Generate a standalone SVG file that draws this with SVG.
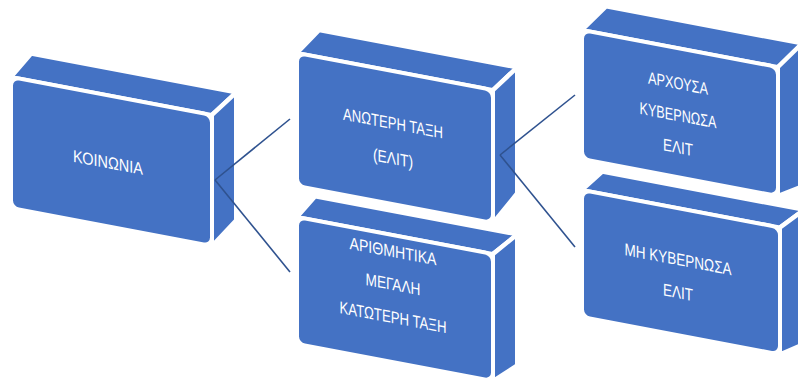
<svg xmlns="http://www.w3.org/2000/svg" width="798" height="383" viewBox="0 0 798 383">
<style>
.f{fill:#4472C4;stroke:#FFFFFF;stroke-width:4;stroke-linejoin:round}
.t{font-family:"Liberation Sans",Arial,sans-serif;font-size:17px;fill:#FFFFFF;text-anchor:middle}
.c{stroke:#2F528F;stroke-width:1.6;fill:none}
</style>
<rect width="798" height="383" fill="#FFFFFF"/>
<g id="node-koinonia" transform="translate(11,77) skewY(10.7)">
<polygon class="f" points="0,0 20,-27 225,-27 201,0"/>
<polygon class="f" points="201,0 225,-27 225,101 201,131"/>
<rect class="f" x="0" y="0" width="201" height="131" rx="8"/>
<text class="t" x="97" y="73" textLength="70" lengthAdjust="spacingAndGlyphs">ΚΟΙΝΩΝΙΑ</text>
</g>
<g id="node-katoteri" transform="translate(297,217) skewY(10.7)">
<polygon class="f" points="0,0 18,-24 220,-24 196,0"/>
<polygon class="f" points="196,0 220,-24 220,107 196,127"/>
<rect class="f" x="0" y="0" width="196" height="127" rx="8"/>
<text class="t" x="96" y="22" textLength="87" lengthAdjust="spacingAndGlyphs">ΑΡΙΘΜΗΤΙΚΑ</text>
<text class="t" x="96" y="55" textLength="55" lengthAdjust="spacingAndGlyphs">ΜΕΓΑΛΗ</text>
<text class="t" x="96" y="88" textLength="107" lengthAdjust="spacingAndGlyphs">ΚΑΤΩΤΕΡΗ ΤΑΞΗ</text>
</g>
<g id="node-anoteri" transform="translate(297,53) skewY(10.7)">
<polygon class="f" points="0,0 22,-27 220,-27 196,0"/>
<polygon class="f" points="196,0 220,-27 220,99 196,133"/>
<rect class="f" x="0" y="0" width="196" height="133" rx="8"/>
<text class="t" x="96" y="58" textLength="100" lengthAdjust="spacingAndGlyphs">ΑΝΩΤΕΡΗ ΤΑΞΗ</text>
<text class="t" x="96" y="93" textLength="40" lengthAdjust="spacingAndGlyphs">(ΕΛΙΤ)</text>
</g>
<g id="node-mi-kyvernosa" transform="translate(582,190) skewY(10.7)">
<polygon class="f" points="0,0 20,-22 222,-22 198,0"/>
<polygon class="f" points="198,0 222,-22 222,112 198,127"/>
<rect class="f" x="0" y="0" width="198" height="127" rx="8"/>
<text class="t" x="96" y="57" textLength="107" lengthAdjust="spacingAndGlyphs">ΜΗ ΚΥΒΕΡΝΩΣΑ</text>
<text class="t" x="96" y="90" textLength="30" lengthAdjust="spacingAndGlyphs">ΕΛΙΤ</text>
</g>
<g id="node-archousa" transform="translate(582,30) skewY(10.7)">
<polygon class="f" points="0,0 24,-28 220,-28 196,0"/>
<polygon class="f" points="196,0 220,-28 220,115 196,129"/>
<rect class="f" x="0" y="0" width="196" height="129" rx="8"/>
<text class="t" x="96" y="41" textLength="60" lengthAdjust="spacingAndGlyphs">ΑΡΧΟΥΣΑ</text>
<text class="t" x="96" y="73" textLength="77" lengthAdjust="spacingAndGlyphs">ΚΥΒΕΡΝΩΣΑ</text>
<text class="t" x="96" y="105" textLength="30" lengthAdjust="spacingAndGlyphs">ΕΛΙΤ</text>
</g>
<g id="connectors">
<line class="c" x1="215" y1="180" x2="290" y2="119"/>
<line class="c" x1="215" y1="180" x2="290" y2="272"/>
<line class="c" x1="500" y1="155" x2="575" y2="95"/>
<line class="c" x1="500" y1="155" x2="575" y2="247"/>
</g>
</svg>
